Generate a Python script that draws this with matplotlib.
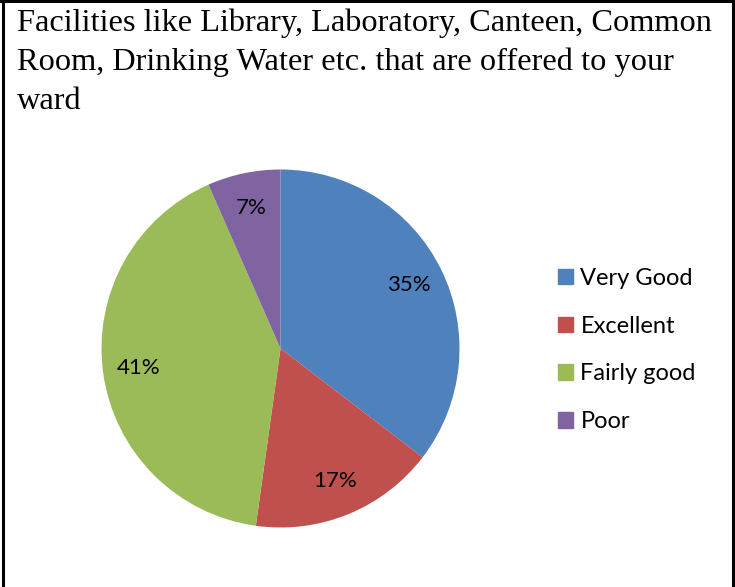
import matplotlib
matplotlib.use("Agg")
import matplotlib.pyplot as plt
from matplotlib.lines import Line2D

title = "Facilities like Library, Laboratory, Canteen, Common\nRoom, Drinking Water etc. that are offered to your\nward"
labels = ["Very Good", "Excellent", "Fairly good", "Poor"]
values = [35.4, 16.8, 41.2, 6.6]
colors = ["#4F81BD", "#C0504D", "#9BBB59", "#8064A2"]

W, H = 735, 587
fig = plt.figure(figsize=(W / 100, H / 100), dpi=100)

# pie axes placed in pixels: centre (280.5, 348.5), radius 179
cx, cy, r = 280.5, 348.5, 179
ax = fig.add_axes([(cx - r) / W, (H - cy - r) / H, 2 * r / W, 2 * r / H])
wedges, texts, autotexts = ax.pie(values, colors=colors, startangle=90, counterclock=False,
                                  autopct="%.0f%%", pctdistance=0.8, radius=1,
                                  textprops={"family": "Lato", "fontsize": 16, "color": "black"})
ax.set_xlim(-1, 1)
ax.set_ylim(-1, 1)
ax.set_aspect("equal")

# title
fig.text(17 / W, 1 - 8 / H, title, ha="left", va="top", family="Liberation Serif",
         fontsize=23.3, linespacing=1.44)

# legend
handles = [plt.Rectangle((0, 0), 1, 1, color=c) for c in colors]
fig.legend(handles, labels, loc="center left", bbox_to_anchor=(537 / W, 1 - 350 / H),
           frameon=False, prop={"family": "Lato", "size": 17}, handlelength=0.64,
           handleheight=0.64, handletextpad=0.3, labelspacing=1.13)

# border
lw = 2.2
fig.add_artist(Line2D([2.5 / W, 2.5 / W], [0, 1], color="black", lw=lw, transform=fig.transFigure))
fig.add_artist(Line2D([0, 1], [1 - 1 / H, 1 - 1 / H], color="black", lw=lw, transform=fig.transFigure))
fig.add_artist(Line2D([733 / W, 733 / W], [0, 1], color="black", lw=lw, transform=fig.transFigure))

fig.savefig("out.png", dpi=100)
